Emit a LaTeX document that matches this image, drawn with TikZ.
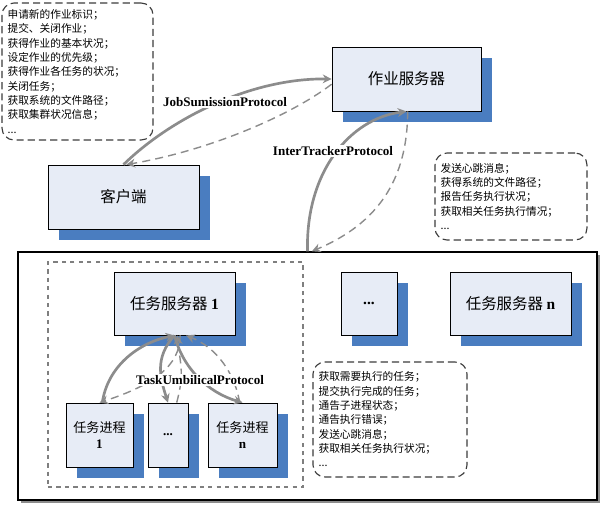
\documentclass[tikz,border=0pt]{standalone}
\usepackage{fontspec}
\setmainfont{Liberation Serif}
\newfontfamily\cjk{Noto Sans CJK SC}
\usetikzlibrary{arrows.meta,shadows}
\definecolor{ink}{HTML}{000000}
\definecolor{boxfill}{HTML}{E7ECF6}
\definecolor{shadeblue}{HTML}{4A7DC0}
\definecolor{arrgray}{HTML}{8C8C8C}
\definecolor{notegray}{HTML}{3C3C3C}
\definecolor{framegray}{HTML}{7F7F7F}
\newcommand{\bnum}[1]{{\rmfamily\bfseries #1}}

\begin{document}
\begin{tikzpicture}[x=0.25mm, y=-0.25mm,
    font=\cjk, text=ink, >={Stealth[length=2.2mm,width=2.2mm]},
    shadowed/.style={drop shadow={shadow xshift=2.8mm, shadow yshift=-2.8mm,
                     fill=shadeblue, opacity=1}},
    srv/.style={draw=ink, line width=0.6pt, fill=boxfill, align=center, inner sep=1pt,
                shadowed, font=\cjk\fontsize{11}{13}\selectfont},
    proc/.style={srv, font=\cjk\fontsize{9.3}{11}\selectfont},
    memo/.style={draw=notegray, dashed, dash pattern=on 1.8mm off 1mm, line width=0.8pt,
                 rounded corners=3mm, align=left, inner xsep=1.4mm,
                 font=\cjk\fontsize{7.6}{10.2}\selectfont},
    proto/.style={font=\rmfamily\bfseries\fontsize{9.3}{11}\selectfont, fill=white, inner sep=1pt},
    sarr/.style={->, line width=1.9pt, draw=arrgray},
    darr/.style={->, line width=1pt, draw=arrgray, dash pattern=on 2mm off 1.3mm},
  ]
  \useasboundingbox (0,0) rectangle (603,511);

  % ---- frame of the task trackers, and the group of the first one
  \node[draw=ink, line width=1pt, fill=white, minimum width=144.75mm, minimum height=62mm,
        drop shadow={shadow xshift=0.7mm, shadow yshift=-0.7mm, fill=black!45, opacity=1}]
        (frame) at (307.5,376) {};
  \node[draw=framegray, dashed, line width=0.9pt, minimum width=63.75mm,
        minimum height=56.25mm] (grp) at (175.5,374.5) {};

  % ---- servers and client
  \node[srv, minimum width=37.25mm, minimum height=16mm] (jt) at (406.5,79) {作业服务器};
  \node[srv, minimum width=37.75mm, minimum height=16mm] (client) at (123.5,197) {客户端};
  \node[srv, minimum width=30.25mm, minimum height=15.75mm] (ts1) at (174.5,303.5) {任务服务器 \bnum{1}};
  \node[srv, minimum width=14mm, minimum height=15.75mm] (tsdots) at (369,303.5) {\bnum{...}};
  \node[srv, minimum width=30.25mm, minimum height=15.75mm] (tsn) at (510.5,303.5) {任务服务器 \bnum{n}};

  % ---- child processes
  \node[proc, minimum width=16.75mm, minimum height=16mm] (task1) at (99.5,435) {任务进程\\\bnum{1}};
  \node[proc, minimum width=10mm, minimum height=16mm] (taskdots) at (168,435) {\bnum{...}};
  \node[proc, minimum width=17.25mm, minimum height=16mm] (taskn) at (242.5,435) {任务进程\\\bnum{n}};

  % ---- what each protocol offers
  \node[memo, text width=34.95mm, minimum height=34.25mm] (jobnote) at (77.5,71.5)
        {申请新的作业标识；\\提交、关闭作业；\\获得作业的基本状况；\\设定作业的优先级；\\获得作业各任务的状况；\\关闭任务；\\获取系统的文件路径；\\获取集群状况信息；\\...};
  \node[memo, text width=35.2mm, minimum height=21.75mm] (trknote) at (511,196.5)
        {发送心跳消息；\\获得系统的文件路径；\\报告任务执行状况；\\获取相关任务执行情况；\\...};
  \node[memo, text width=35.7mm, minimum height=28.75mm] (tasknote) at (390,419.5)
        {获取需要执行的任务；\\提交执行完成的任务；\\通告子进程状态；\\通告执行错误；\\发送心跳消息；\\获取相关任务执行状况；\\...};

  % ---- client <-> job tracker
  \draw[sarr] (client.north) .. controls +(46,-45) and +(-82,-1) .. (jt.west);
  \draw[darr] (jt.184) .. controls +(-42,32) and +(82,-14) .. (client.85);
  \node[proto] (jsp) at (225,102) {JobSumissionProtocol};

  % ---- task trackers <-> job tracker
  \draw[sarr] (frame.north) .. controls +(-2,-80) and +(-56,7) .. (jt.south);
  \draw[darr] (jt.-88) .. controls +(0,77) and +(57,-24) .. (frame.88);
  \node[proto] (itp) at (333,151) {InterTrackerProtocol};

  % ---- child processes <-> task tracker
  \draw[sarr] (task1.85) .. controls +(5,-35) and +(-38,8) .. (ts1.south);
  \draw[darr] (ts1.-80) .. controls +(0,30) and +(55,-18) .. (task1.north);
  \draw[sarr] (ts1.south) .. controls +(-20,22) and +(-8,-25) .. (taskdots.north);
  \draw[darr] (taskdots.75) .. controls +(8,-30) and +(3,30) .. (ts1.-85);
  \draw[sarr] (ts1.south) .. controls +(8,32) and +(-35,-10) .. (taskn.north);
  \draw[darr] (taskn.95) .. controls +(-5,-30) and +(30,12) .. (ts1.-70);
  \node[proto] (tup) at (200,380) {TaskUmbilicalProtocol};
\end{tikzpicture}
\end{document}
